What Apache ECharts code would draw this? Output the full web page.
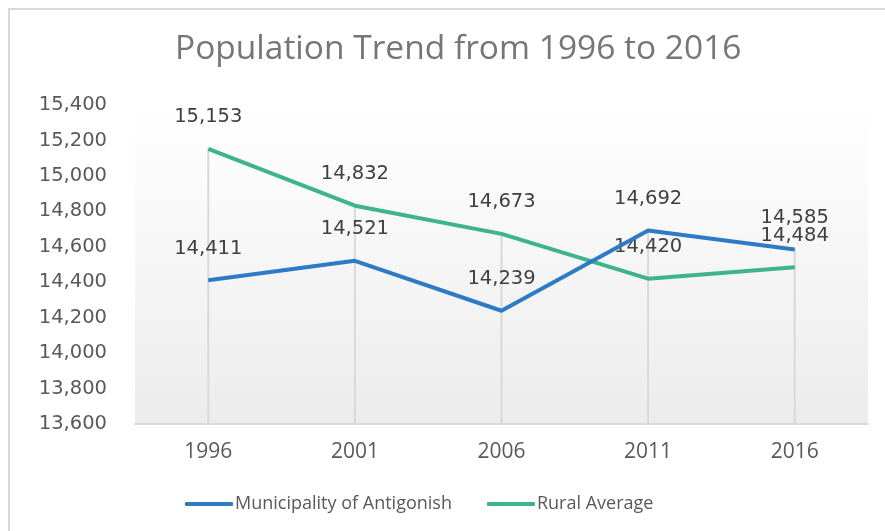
<!DOCTYPE html>
<html>
<head>
<meta charset="utf-8">
<script src="https://cdn.jsdelivr.net/npm/echarts@6/dist/echarts.min.js"></script>
<style>
html,body{margin:0;padding:0;background:#fff;}
#chart{width:885px;height:531px;}
</style>
</head>
<body>
<div id="chart"></div>
<script>
const categories = ['1996', '2001', '2006', '2011', '2016'];
const antigonish = [14411, 14521, 14239, 14692, 14585];
const rural = [15153, 14832, 14673, 14420, 14484];
const seriesNames = ['Municipality of Antigonish', 'Rural Average'];
const yMin = 13600, yMax = 15400, yStep = 200;

const dropData = categories.map((c, i) => [i, Math.max(antigonish[i], rural[i])]);

const narrow = '"Open Sans", sans-serif';
const wide = '"DejaVu Sans", sans-serif';

const chart = echarts.init(document.getElementById('chart'));
chart.setOption({
  animation: false,
  backgroundColor: '#ffffff',
  title: {
    text: 'Population Trend from 1996 to 2016',
    left: 170, top: 27,
    textStyle: { fontFamily: narrow, fontSize: 33.5, fontWeight: 'normal', color: '#767676' }
  },
  graphic: [{
    type: 'polyline', silent: true,
    shape: { points: [[9, 531], [9, 9], [885, 9]] },
    style: { stroke: '#d9d9d9', lineWidth: 2, fill: null }
  }],
  legend: {
    bottom: 13, left: 180,
    itemWidth: 48, itemHeight: 4, itemGap: 35,
    icon: 'roundRect',
    textStyle: { fontFamily: narrow, fontSize: 18, color: '#595959', padding: [0, 0, 0, -3] },
    data: seriesNames
  },
  grid: {
    left: 135, right: 17, top: 105, bottom: 107,
    show: true, borderWidth: 0,
    backgroundColor: new echarts.graphic.LinearGradient(0, 0, 0, 1, [
      { offset: 0, color: '#ffffff' }, { offset: 1, color: '#ececec' }
    ])
  },
  xAxis: {
    type: 'category', data: categories, boundaryGap: true,
    axisLine: { lineStyle: { color: '#d9d9d9', width: 2 } },
    axisTick: { show: false },
    axisLabel: { fontFamily: narrow, fontSize: 21, color: '#595959', margin: 18 }
  },
  yAxis: {
    type: 'value', min: yMin, max: yMax, interval: yStep,
    axisLine: { show: false }, axisTick: { show: false },
    splitLine: { show: false },
    axisLabel: {
      fontFamily: wide, fontSize: 19.5, color: '#595959', margin: 28,
      formatter: v => v.toLocaleString('en-US')
    }
  },
  series: [
    {
      type: 'custom', name: 'drop', silent: true, z: 1,
      data: dropData,
      renderItem: (params, api) => {
        const top = api.coord([api.value(0), api.value(1)]);
        const bot = api.coord([api.value(0), yMin]);
        return {
          type: 'line',
          shape: { x1: top[0], y1: top[1], x2: bot[0], y2: bot[1] },
          style: { stroke: '#d9d9d9', lineWidth: 2 }
        };
      }
    },
    {
      name: seriesNames[0], type: 'line', data: antigonish, z: 3,
      showSymbol: true, symbol: 'circle', symbolSize: 1,
      lineStyle: { color: '#2c7bc4', width: 4 },
      itemStyle: { color: '#2c7bc4' },
      label: {
        show: true, position: 'top', distance: 21,
        fontFamily: wide, fontSize: 19.5, color: '#404040',
        formatter: p => p.value.toLocaleString('en-US')
      }
    },
    {
      name: seriesNames[1], type: 'line', data: rural, z: 2,
      showSymbol: true, symbol: 'circle', symbolSize: 1,
      lineStyle: { color: '#3db38e', width: 4 },
      itemStyle: { color: '#3db38e' },
      label: {
        show: true, position: 'top', distance: 21,
        fontFamily: wide, fontSize: 19.5, color: '#404040',
        formatter: p => p.value.toLocaleString('en-US')
      }
    }
  ]
});
</script>
</body>
</html>
